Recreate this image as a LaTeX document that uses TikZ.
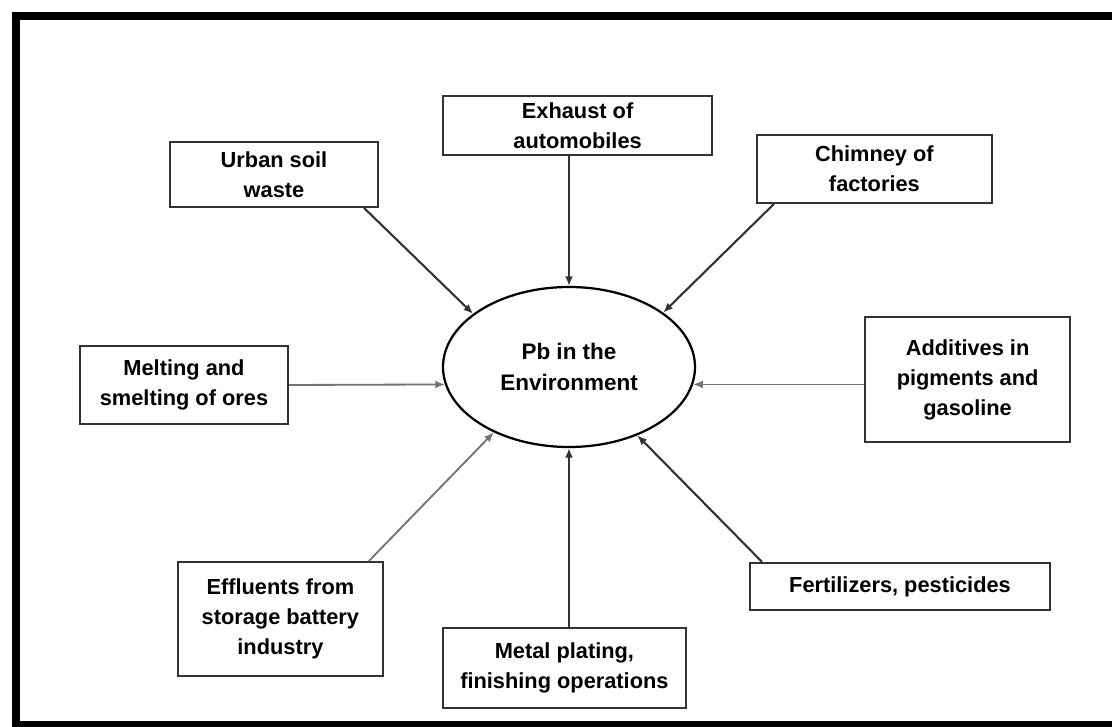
\documentclass[tikz,border=0pt]{standalone}
\usepackage{fontspec}
\setmainfont{Liberation Sans}
\usetikzlibrary{arrows.meta,shapes.geometric}

\begin{document}
\begin{tikzpicture}[
  src/.style={draw=black!80, line width=1.4pt, fill=white, align=center,
    inner sep=0pt, font=\bfseries\fontsize{15.5}{21.3}\selectfont},
  env/.style={ellipse, draw=black, line width=1.6pt, align=center,
    inner sep=0pt, minimum width=6.3cm, minimum height=4cm,
    font=\bfseries\fontsize{16}{22}\selectfont},
  arr/.style={line width=1.5pt, draw=black!80, -{Latex[length=2.4mm,width=2mm]}},
  farr/.style={line width=1.3pt, draw=black!55, -{Latex[length=2.4mm,width=2mm]}}
]
\useasboundingbox (0,0) rectangle (27.8,18.15);
\fill [white] (0,0) rectangle (27.8,18.15);
\draw [line width=0.2cm] (27.8,17.75) -- (0.4,17.75) -- (0.4,0.025) -- (27.8,0.025);

\node [env] (env) at (14.225,8.975) {Pb in the\\Environment};

\node [src, minimum width=6.725cm, minimum height=1.475cm] (exhaust) at (14.44,15.01) {Exhaust of\\automobiles};
\node [src, minimum width=5.2cm, minimum height=1.625cm] (urban) at (6.85,13.79) {Urban soil\\waste};
\node [src, minimum width=5.875cm, minimum height=1.7cm] (chimney) at (21.86,13.925) {Chimney of\\factories};
\node [src, minimum width=5.2cm, minimum height=1.95cm] (melting) at (4.6,8.525) {Melting and\\smelting of ores};
\node [src, minimum width=5.125cm, minimum height=3.125cm] (additives) at (24.19,8.66) {Additives in\\pigments and\\gasoline};
\node [src, minimum width=5.125cm, minimum height=2.85cm] (effluents) at (7.01,2.675) {Effluents from\\storage battery\\industry};
\node [src, minimum width=6.075cm, minimum height=2cm] (metal) at (14.11,1.46) {Metal plating,\\finishing operations};
\node [src, minimum width=7.5cm, minimum height=1.175cm] (fertilizers) at (22.5,3.49) {Fertilizers, pesticides};

\draw [arr] (exhaust.south -| env.north) -- (env.north);
\draw [arr] ([xshift=-0.375cm]urban.south east) -- (env.151);
\draw [arr] ([xshift=0.45cm]chimney.south west) -- (env.30);
\draw [farr] (melting.east) -- (env.188);
\draw [farr] (additives.west |- env.352) -- (env.352);
\draw [farr] ([xshift=-0.375cm]effluents.north east) -- (env.221);
\draw [arr] (metal.north -| env.south) -- (env.south);
\draw [arr] ([xshift=0.325cm]fertilizers.north west) -- (env.315);
\end{tikzpicture}
\end{document}
